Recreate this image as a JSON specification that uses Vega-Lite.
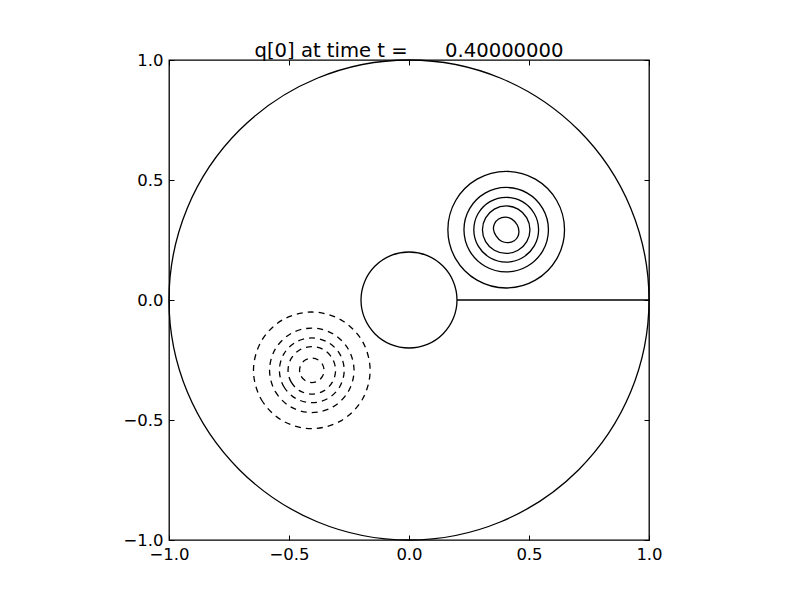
{
  "$schema": "https://vega.github.io/schema/vega-lite/v6.json",
  "width": 480,
  "height": 480,
  "autosize": "none",
  "padding": {"left": 169, "top": 60, "right": 151, "bottom": 61},
  "title": {"text": "q[0] at time t =\u00a0\u00a0\u00a0\u00a0\u00a0\u00a00.40000000", "font": "DejaVu Sans", "fontSize": 19.6, "fontWeight": "normal", "color": "black", "baseline": "alphabetic", "offset": -25, "anchor": "middle"},
  "config": {
    "view": {"stroke": "black", "strokeWidth": 1.3},
    "axis": {"domain": false, "grid": false, "tickSize": -5, "tickColor": "black", "tickWidth": 1, "labelFont": "DejaVu Sans", "labelFontSize": 16.5, "labelColor": "black", "labelFlush": false, "labelOverlap": false, "title": null}
  },
  "datasets": {
    "solid": [
      {"id": "outer", "i": 0, "x": 1, "y": 0},
      {"id": "outer", "i": 1, "x": 0.9239, "y": 0.3827},
      {"id": "outer", "i": 2, "x": 0.7071, "y": 0.7071},
      {"id": "outer", "i": 3, "x": 0.3827, "y": 0.9239},
      {"id": "outer", "i": 4, "x": 0, "y": 1},
      {"id": "outer", "i": 5, "x": -0.3827, "y": 0.9239},
      {"id": "outer", "i": 6, "x": -0.7071, "y": 0.7071},
      {"id": "outer", "i": 7, "x": -0.9239, "y": 0.3827},
      {"id": "outer", "i": 8, "x": -1, "y": 0},
      {"id": "outer", "i": 9, "x": -0.9239, "y": -0.3827},
      {"id": "outer", "i": 10, "x": -0.7071, "y": -0.7071},
      {"id": "outer", "i": 11, "x": -0.3827, "y": -0.9239},
      {"id": "outer", "i": 12, "x": 0, "y": -1},
      {"id": "outer", "i": 13, "x": 0.3827, "y": -0.9239},
      {"id": "outer", "i": 14, "x": 0.7071, "y": -0.7071},
      {"id": "outer", "i": 15, "x": 0.9239, "y": -0.3827},
      {"id": "inner", "i": 0, "x": 0.2, "y": 0},
      {"id": "inner", "i": 1, "x": 0.1848, "y": 0.0765},
      {"id": "inner", "i": 2, "x": 0.1414, "y": 0.1414},
      {"id": "inner", "i": 3, "x": 0.0765, "y": 0.1848},
      {"id": "inner", "i": 4, "x": 0, "y": 0.2},
      {"id": "inner", "i": 5, "x": -0.0765, "y": 0.1848},
      {"id": "inner", "i": 6, "x": -0.1414, "y": 0.1414},
      {"id": "inner", "i": 7, "x": -0.1848, "y": 0.0765},
      {"id": "inner", "i": 8, "x": -0.2, "y": 0},
      {"id": "inner", "i": 9, "x": -0.1848, "y": -0.0765},
      {"id": "inner", "i": 10, "x": -0.1414, "y": -0.1414},
      {"id": "inner", "i": 11, "x": -0.0765, "y": -0.1848},
      {"id": "inner", "i": 12, "x": 0, "y": -0.2},
      {"id": "inner", "i": 13, "x": 0.0765, "y": -0.1848},
      {"id": "inner", "i": 14, "x": 0.1414, "y": -0.1414},
      {"id": "inner", "i": 15, "x": 0.1848, "y": -0.0765},
      {"id": "p1", "i": 0, "x": 0.648, "y": 0.293},
      {"id": "p1", "i": 1, "x": 0.6154, "y": 0.4145},
      {"id": "p1", "i": 2, "x": 0.5265, "y": 0.5034},
      {"id": "p1", "i": 3, "x": 0.405, "y": 0.536},
      {"id": "p1", "i": 4, "x": 0.2835, "y": 0.5034},
      {"id": "p1", "i": 5, "x": 0.1946, "y": 0.4145},
      {"id": "p1", "i": 6, "x": 0.162, "y": 0.293},
      {"id": "p1", "i": 7, "x": 0.1946, "y": 0.1715},
      {"id": "p1", "i": 8, "x": 0.2835, "y": 0.0826},
      {"id": "p1", "i": 9, "x": 0.405, "y": 0.05},
      {"id": "p1", "i": 10, "x": 0.5265, "y": 0.0826},
      {"id": "p1", "i": 11, "x": 0.6154, "y": 0.1715},
      {"id": "p2", "i": 0, "x": 0.581, "y": 0.293},
      {"id": "p2", "i": 1, "x": 0.5574, "y": 0.381},
      {"id": "p2", "i": 2, "x": 0.493, "y": 0.4454},
      {"id": "p2", "i": 3, "x": 0.405, "y": 0.469},
      {"id": "p2", "i": 4, "x": 0.317, "y": 0.4454},
      {"id": "p2", "i": 5, "x": 0.2526, "y": 0.381},
      {"id": "p2", "i": 6, "x": 0.229, "y": 0.293},
      {"id": "p2", "i": 7, "x": 0.2526, "y": 0.205},
      {"id": "p2", "i": 8, "x": 0.317, "y": 0.1406},
      {"id": "p2", "i": 9, "x": 0.405, "y": 0.117},
      {"id": "p2", "i": 10, "x": 0.493, "y": 0.1406},
      {"id": "p2", "i": 11, "x": 0.5574, "y": 0.205},
      {"id": "p3", "i": 0, "x": 0.54, "y": 0.293},
      {"id": "p3", "i": 1, "x": 0.5219, "y": 0.3605},
      {"id": "p3", "i": 2, "x": 0.4725, "y": 0.4099},
      {"id": "p3", "i": 3, "x": 0.405, "y": 0.428},
      {"id": "p3", "i": 4, "x": 0.3375, "y": 0.4099},
      {"id": "p3", "i": 5, "x": 0.2881, "y": 0.3605},
      {"id": "p3", "i": 6, "x": 0.27, "y": 0.293},
      {"id": "p3", "i": 7, "x": 0.2881, "y": 0.2255},
      {"id": "p3", "i": 8, "x": 0.3375, "y": 0.1761},
      {"id": "p3", "i": 9, "x": 0.405, "y": 0.158},
      {"id": "p3", "i": 10, "x": 0.4725, "y": 0.1761},
      {"id": "p3", "i": 11, "x": 0.5219, "y": 0.2255},
      {"id": "p4", "i": 0, "x": 0.504, "y": 0.293},
      {"id": "p4", "i": 1, "x": 0.4907, "y": 0.3425},
      {"id": "p4", "i": 2, "x": 0.4545, "y": 0.3787},
      {"id": "p4", "i": 3, "x": 0.405, "y": 0.392},
      {"id": "p4", "i": 4, "x": 0.3555, "y": 0.3787},
      {"id": "p4", "i": 5, "x": 0.3193, "y": 0.3425},
      {"id": "p4", "i": 6, "x": 0.306, "y": 0.293},
      {"id": "p4", "i": 7, "x": 0.3193, "y": 0.2435},
      {"id": "p4", "i": 8, "x": 0.3555, "y": 0.2073},
      {"id": "p4", "i": 9, "x": 0.405, "y": 0.194},
      {"id": "p4", "i": 10, "x": 0.4545, "y": 0.2073},
      {"id": "p4", "i": 11, "x": 0.4907, "y": 0.2435},
      {"id": "p5", "i": 0, "x": 0.458, "y": 0.285},
      {"id": "p5", "i": 1, "x": 0.4512, "y": 0.3125},
      {"id": "p5", "i": 2, "x": 0.4285, "y": 0.3372},
      {"id": "p5", "i": 3, "x": 0.40, "y": 0.345},
      {"id": "p5", "i": 4, "x": 0.3735, "y": 0.3372},
      {"id": "p5", "i": 5, "x": 0.3568, "y": 0.3185},
      {"id": "p5", "i": 6, "x": 0.352, "y": 0.295},
      {"id": "p5", "i": 7, "x": 0.3628, "y": 0.2675},
      {"id": "p5", "i": 8, "x": 0.3855, "y": 0.2448},
      {"id": "p5", "i": 9, "x": 0.412, "y": 0.239},
      {"id": "p5", "i": 10, "x": 0.4385, "y": 0.2468},
      {"id": "p5", "i": 11, "x": 0.4532, "y": 0.2635}
    ],
    "dashed": [
      {"id": "n1", "i": 0, "x": -0.648, "y": -0.293},
      {"id": "n1", "i": 1, "x": -0.6154, "y": -0.4145},
      {"id": "n1", "i": 2, "x": -0.5265, "y": -0.5034},
      {"id": "n1", "i": 3, "x": -0.405, "y": -0.536},
      {"id": "n1", "i": 4, "x": -0.2835, "y": -0.5034},
      {"id": "n1", "i": 5, "x": -0.1946, "y": -0.4145},
      {"id": "n1", "i": 6, "x": -0.162, "y": -0.293},
      {"id": "n1", "i": 7, "x": -0.1946, "y": -0.1715},
      {"id": "n1", "i": 8, "x": -0.2835, "y": -0.0826},
      {"id": "n1", "i": 9, "x": -0.405, "y": -0.05},
      {"id": "n1", "i": 10, "x": -0.5265, "y": -0.0826},
      {"id": "n1", "i": 11, "x": -0.6154, "y": -0.1715},
      {"id": "n2", "i": 0, "x": -0.581, "y": -0.293},
      {"id": "n2", "i": 1, "x": -0.5574, "y": -0.381},
      {"id": "n2", "i": 2, "x": -0.493, "y": -0.4454},
      {"id": "n2", "i": 3, "x": -0.405, "y": -0.469},
      {"id": "n2", "i": 4, "x": -0.317, "y": -0.4454},
      {"id": "n2", "i": 5, "x": -0.2526, "y": -0.381},
      {"id": "n2", "i": 6, "x": -0.229, "y": -0.293},
      {"id": "n2", "i": 7, "x": -0.2526, "y": -0.205},
      {"id": "n2", "i": 8, "x": -0.317, "y": -0.1406},
      {"id": "n2", "i": 9, "x": -0.405, "y": -0.117},
      {"id": "n2", "i": 10, "x": -0.493, "y": -0.1406},
      {"id": "n2", "i": 11, "x": -0.5574, "y": -0.205},
      {"id": "n3", "i": 0, "x": -0.54, "y": -0.293},
      {"id": "n3", "i": 1, "x": -0.5219, "y": -0.3605},
      {"id": "n3", "i": 2, "x": -0.4725, "y": -0.4099},
      {"id": "n3", "i": 3, "x": -0.405, "y": -0.428},
      {"id": "n3", "i": 4, "x": -0.3375, "y": -0.4099},
      {"id": "n3", "i": 5, "x": -0.2881, "y": -0.3605},
      {"id": "n3", "i": 6, "x": -0.27, "y": -0.293},
      {"id": "n3", "i": 7, "x": -0.2881, "y": -0.2255},
      {"id": "n3", "i": 8, "x": -0.3375, "y": -0.1761},
      {"id": "n3", "i": 9, "x": -0.405, "y": -0.158},
      {"id": "n3", "i": 10, "x": -0.4725, "y": -0.1761},
      {"id": "n3", "i": 11, "x": -0.5219, "y": -0.2255},
      {"id": "n4", "i": 0, "x": -0.504, "y": -0.293},
      {"id": "n4", "i": 1, "x": -0.4907, "y": -0.3425},
      {"id": "n4", "i": 2, "x": -0.4545, "y": -0.3787},
      {"id": "n4", "i": 3, "x": -0.405, "y": -0.392},
      {"id": "n4", "i": 4, "x": -0.3555, "y": -0.3787},
      {"id": "n4", "i": 5, "x": -0.3193, "y": -0.3425},
      {"id": "n4", "i": 6, "x": -0.306, "y": -0.293},
      {"id": "n4", "i": 7, "x": -0.3193, "y": -0.2435},
      {"id": "n4", "i": 8, "x": -0.3555, "y": -0.2073},
      {"id": "n4", "i": 9, "x": -0.405, "y": -0.194},
      {"id": "n4", "i": 10, "x": -0.4545, "y": -0.2073},
      {"id": "n4", "i": 11, "x": -0.4907, "y": -0.2435},
      {"id": "n5", "i": 0, "x": -0.456, "y": -0.293},
      {"id": "n5", "i": 1, "x": -0.4492, "y": -0.3185},
      {"id": "n5", "i": 2, "x": -0.4305, "y": -0.3372},
      {"id": "n5", "i": 3, "x": -0.405, "y": -0.344},
      {"id": "n5", "i": 4, "x": -0.3795, "y": -0.3372},
      {"id": "n5", "i": 5, "x": -0.3608, "y": -0.3185},
      {"id": "n5", "i": 6, "x": -0.354, "y": -0.293},
      {"id": "n5", "i": 7, "x": -0.3608, "y": -0.2675},
      {"id": "n5", "i": 8, "x": -0.3795, "y": -0.2488},
      {"id": "n5", "i": 9, "x": -0.405, "y": -0.242},
      {"id": "n5", "i": 10, "x": -0.4305, "y": -0.2488},
      {"id": "n5", "i": 11, "x": -0.4492, "y": -0.2675}
    ],
    "cut": [
      {"x": 0.2, "x2": 1, "y": 0}
    ]
  },
  "resolve": {"axis": {"x": "independent", "y": "independent"}},
  "layer": [
    {
      "data": {"name": "solid"},
      "mark": {"type": "line", "interpolate": "catmull-rom-closed", "stroke": "black", "strokeWidth": 1.3},
      "encoding": {
        "x": {"field": "x", "type": "quantitative", "scale": {"domain": [-1, 1], "nice": false, "zero": false}, "axis": {"orient": "bottom", "values": [-1, -0.5, 0, 0.5, 1], "format": ".1f", "labelPadding": 11}},
        "y": {"field": "y", "type": "quantitative", "scale": {"domain": [-1, 1], "nice": false, "zero": false}, "axis": {"orient": "left", "values": [-1, -0.5, 0, 0.5, 1], "format": ".1f", "labelPadding": 11}},
        "detail": {"field": "id", "type": "nominal"},
        "order": {"field": "i", "type": "quantitative"}
      }
    },
    {
      "data": {"name": "dashed"},
      "mark": {"type": "line", "interpolate": "catmull-rom-closed", "stroke": "black", "strokeWidth": 1.3, "strokeDash": [6, 5]},
      "encoding": {
        "x": {"field": "x", "type": "quantitative", "axis": null},
        "y": {"field": "y", "type": "quantitative", "axis": null},
        "detail": {"field": "id", "type": "nominal"},
        "order": {"field": "i", "type": "quantitative"}
      }
    },
    {
      "data": {"name": "cut"},
      "mark": {"type": "rule", "stroke": "black", "strokeWidth": 1.5},
      "encoding": {
        "x": {"field": "x", "type": "quantitative", "axis": {"orient": "top", "values": [-1, -0.5, 0, 0.5, 1], "labels": false, "labelExpr": "''"}},
        "x2": {"field": "x2"},
        "y": {"field": "y", "type": "quantitative", "axis": {"orient": "right", "values": [-1, -0.5, 0, 0.5, 1], "labels": false, "labelExpr": "''"}}
      }
    }
  ]
}
